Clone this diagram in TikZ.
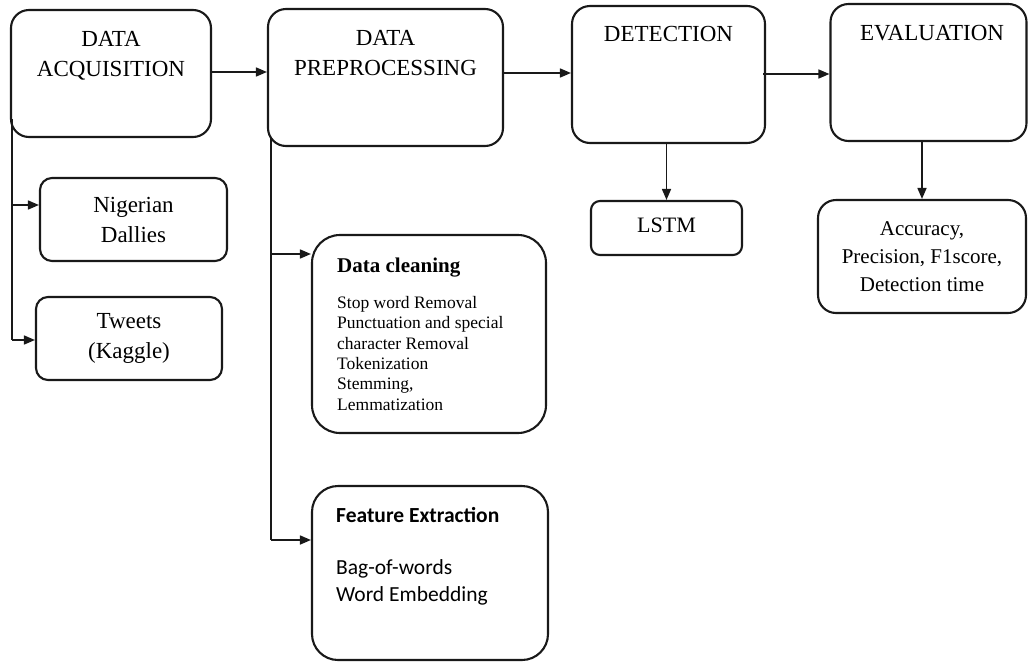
\documentclass[tikz,border=0pt]{standalone}
\usepackage{fontspec}
\setmainfont{Liberation Serif}
\newfontfamily\calib{Carlito}
\usetikzlibrary{arrows.meta}
\definecolor{ink}{RGB}{25,25,25}
\begin{document}
\begin{tikzpicture}[x=1pt,y=-1pt,
  box/.style={draw=ink, line width=2.1pt, rounded corners=#1, inner sep=0pt},
  box/.default=18pt,
  conn/.style={draw=ink, line width=1.6pt},
  arr/.style={conn, -{Triangle[length=11pt,width=9pt]}},
  ttl/.style={anchor=north, align=center, inner sep=0pt, text=black, font=\fontsize{23}{30}\selectfont},
  sub/.style={align=center, text=black, font=\fontsize{23}{30}\selectfont}
]
\useasboundingbox (0,0) rectangle (1028,662);

% main boxes
\node[box, minimum width=200pt, minimum height=127pt] (acq) at (111,73.5) {};
\node[box, minimum width=235pt, minimum height=137pt] (prep) at (385.5,77.5) {};
\node[box, minimum width=193pt, minimum height=137pt] (det) at (668.5,74.5) {};
\node[box, minimum width=196pt, minimum height=137pt] (eval) at (928.5,72.5) {};

\node[ttl] (acqL) at (111,31) {DATA\\ACQUISITION};
\node[ttl] (prepL) at (385.5,30.5) {DATA\\PREPROCESSING};
\node[ttl] (detL) at (668.5,26.5) {DETECTION};
\node[ttl] (evalL) at (932,25) {EVALUATION};

% sub boxes
\node[box=12pt, sub, minimum width=187pt, minimum height=83pt] (nig) at (133.5,219.5) {Nigerian\\Dallies};
\node[box=12pt, sub, minimum width=186pt, minimum height=83pt] (tw) at (129,338.5) {Tweets\\(Kaggle)};
\node[box=9pt, sub, font=\fontsize{22}{26}\selectfont, minimum width=151pt, minimum height=54pt, text depth=6pt] (lstm) at (666.5,228) {LSTM};
\node[box=18pt, sub, font=\fontsize{21}{28}\selectfont, minimum width=208pt, minimum height=113pt] (acc) at (922,256.5) {Accuracy,\\Precision, F1score,\\Detection time};

\node[box=28pt, minimum width=234pt, minimum height=198pt] (clean) at (429,334) {};
\node[anchor=base west, inner sep=0pt, font=\bfseries\fontsize{21}{24}\selectfont] (cleanT) at (337,272) {Data cleaning};
\node[anchor=north west, align=left, inner sep=0pt, font=\fontsize{17.5}{20.4}\selectfont] (cleanB) at (337,296) {Stop word Removal\\Punctuation and special\\character Removal\\Tokenization\\Stemming,\\Lemmatization};

\node[box=26pt, minimum width=236pt, minimum height=174pt] (feat) at (430,573) {};
\node[anchor=base west, inner sep=0pt, font=\calib\bfseries\fontsize{21.5}{25}\selectfont] (featT) at (336,522) {Feature Extraction};
\node[anchor=north west, align=left, inner sep=0pt, font=\calib\fontsize{21.5}{27}\selectfont] (featB) at (336,559) {Bag-of-words\\Word Embedding};

% horizontal flow
\draw[arr] (acq.east |- 0,72) -- (prep.west |- 0,72);
\draw[arr] (prep.east |- 0,73) -- (det.west |- 0,73);
\draw[arr] ([xshift=-3pt]det.east |- 0,74) -- (eval.west |- 0,74);

% vertical drops
\draw[arr] (det.south -| lstm.north) -- (lstm.north);
\draw[arr] (eval.south -| acc.north) -- (acc.north);

% acquisition branch
\coordinate (aTop) at (11.8,119);
\coordinate (aN) at (11.8,205);
\coordinate (aT) at (11.8,340);
\draw[conn] (aTop) -- (aT);
\draw[arr] (aN) -- (nig.west |- aN);
\draw[arr] (aT) -- (tw.west |- aT);

% preprocessing branch
\coordinate (pTop) at (271,138);
\coordinate (pC) at (271,254);
\coordinate (pF) at (271,540);
\draw[conn] (pTop) -- (pF);
\draw[arr] (pC) -- (clean.west |- pC);
\draw[arr] (pF) -- (feat.west |- pF);
\end{tikzpicture}
\end{document}
